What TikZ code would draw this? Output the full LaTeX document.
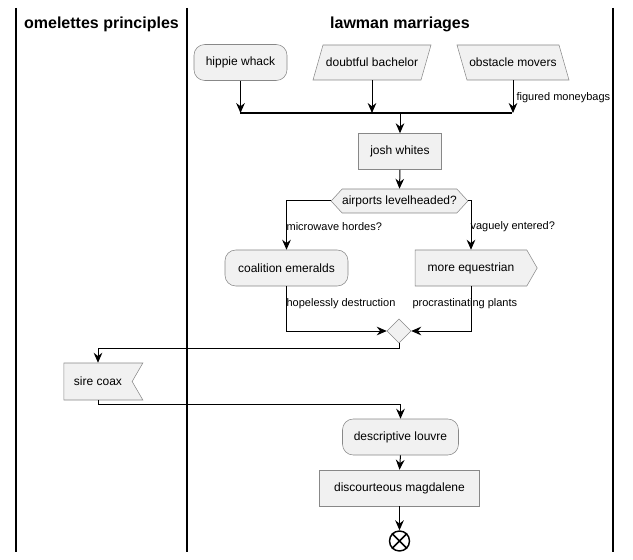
\documentclass[tikz,border=0pt]{standalone}
\usepackage{fontspec}
\setmainfont{Liberation Sans}
\usetikzlibrary{arrows.meta,shapes.geometric,shapes.symbols,positioning}
\definecolor{boxfill}{HTML}{F1F1F1}
\definecolor{boxline}{HTML}{888888}
\tikzset{
  act/.style={draw=boxline,fill=boxfill,font=\fontsize{9}{11}\selectfont,minimum height=27pt,inner sep=0pt},
  rounded/.style={act,rounded corners=8pt},
  bare/.style={act,draw=none,fill=none},
  slanted/.style={draw=boxline,fill=boxfill},
  lbl/.style={font=\fontsize{8.25}{10}\selectfont,anchor=west,inner sep=1pt},
  lanetitle/.style={font=\bfseries\fontsize{12}{14}\selectfont,inner sep=0pt},
  flow/.style={-{Stealth[length=7.5pt,width=6.5pt,inset=2.5pt]},line width=0.75pt},
  endmark/.style={circle,draw,line width=1.1pt,fill=white,minimum size=15pt,inner sep=0pt},
}
\begin{document}
\begin{tikzpicture}[x=0.75pt,y=-0.75pt]
\useasboundingbox (0,0) rectangle (633,560);
% swimlanes
\draw[line width=1.1pt](16,8)--(16,552) (187,8)--(187,552) (613,8)--(613,552);
\node[lanetitle] (laneA) at (101.5,24) {omelettes principles};
\node[lanetitle] (laneB) at (400,24) {lawman marriages};
% activities
\node[rounded,minimum width=69.75pt] (hippie) at (240.5,62.5) {hippie whack};
\filldraw[slanted](323,45)--(431,45)--(421,80)--(313,80)--cycle;
\node[bare,minimum height=26.25pt] (bachelor) at (372,62.5) {doubtful bachelor};
\filldraw[slanted](457,45)--(559,45)--(569,80)--(467,80)--cycle;
\node[bare,minimum height=26.25pt] (movers) at (513,62.5) {obstacle movers};
\coordinate (barL) at (240,113);
\coordinate (barR) at (512,113);
\node[act,minimum width=62.25pt] (josh) at (400,151.5) {josh whites};
\node[act,signal,signal to=east and west,signal pointer angle=95,minimum width=95.25pt,minimum height=18pt] (airports) at (399.5,201) {airports levelheaded?};
\node[rounded,minimum width=92.25pt] (coalition) at (286.5,268) {coalition emeralds};
\node[act,signal,signal to=east,signal pointer angle=120,minimum width=91.5pt] (equestrian) at (471,268) {more equestrian};
\node[act,diamond,minimum size=18pt] (merge) at (399,331) {};
\node[act,signal,signal to=nowhere,signal from=east,signal pointer angle=120,minimum width=59.25pt,minimum height=27.75pt] (sire) at (98,381.5) {sire coax};
\node[rounded,minimum width=87pt] (louvre) at (400.5,437) {descriptive louvre};
\node[act,minimum width=120pt] (magdalene) at (399.5,488) {discourteous magdalene};
\node[endmark] (finish) at (399.5,541) {};
\draw[line width=1.1pt](finish.north east)--(finish.south west) (finish.north west)--(finish.south east);
% connectors
\draw[flow](hippie.south)--(hippie.south |- barL);
\draw[flow](bachelor.south)--(bachelor.south |- barL);
\draw[flow](movers.south)--(movers.south |- barL);
\draw[line width=1.5pt](barL)--(barR);
\draw[flow](josh.north |- barL)--(josh.north);
\draw[flow](josh.south)--(airports.north);
\draw[flow](airports.west)-|(coalition.north);
\draw[flow](airports.east)-|(equestrian.north);
\draw[flow](coalition.south)|-(merge.west);
\draw[flow](equestrian.south)|-(merge.east);
\draw[flow](merge.south)--++(0,5)-|(sire.north);
\draw[flow](sire.south)--++(0,4)-|(louvre.north);
\draw[flow](louvre.south)--(magdalene.north);
\draw[flow](magdalene.south)--(finish.north);
% labels
\node[lbl] (lblA) at (515,98) {figured moneybags};
\node[lbl] (lblB) at (285,226.5) {microwave hordes?};
\node[lbl] (lblC) at (469,226.5) {vaguely entered?};
\node[lbl] (lblD) at (285,303.5) {hopelessly destruction};
\node[lbl] (lblE) at (411,303.5) {procrastinating plants};
\end{tikzpicture}
\end{document}
